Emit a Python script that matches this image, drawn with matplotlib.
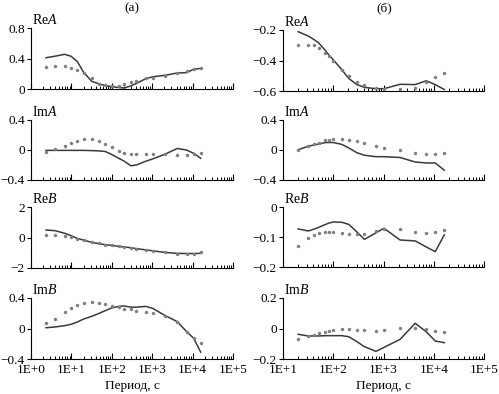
import numpy as np
import matplotlib.pyplot as plt
from matplotlib.ticker import FixedLocator, LogLocator, FuncFormatter, NullFormatter

plt.rcParams['font.family'] = ['Liberation Serif', 'DejaVu Serif']
plt.rcParams['mathtext.fontset'] = 'custom'
plt.rcParams['mathtext.rm'] = 'Liberation Serif'
plt.rcParams['mathtext.it'] = 'Liberation Serif:italic'
plt.rcParams['font.size'] = 9.5

# (a) periods, s
per_a = [2.35, 3.9, 6.8, 9.8, 14, 20, 32, 49, 69, 100, 148, 204, 295, 407,
         690, 1020, 2090, 4170, 7080, 10700, 15850]
reA_obs = [0.29, 0.30, 0.30, 0.28, 0.25, 0.21, 0.14, 0.07, 0.05, 0.04, 0.04,
           0.06, 0.09, 0.10, 0.14, 0.15, 0.17, 0.21, 0.23, 0.26, 0.27]
reA_mod = [0.41, 0.43, 0.455, 0.43, 0.36, 0.22, 0.10, 0.066, 0.045, 0.03, 0.02,
           0.013, 0.04, 0.074, 0.135, 0.16, 0.18, 0.21, 0.215, 0.26, 0.27]
imA_obs = [-0.02, 0.013, 0.058, 0.089, 0.12, 0.15, 0.15, 0.116, 0.08, 0.036, -0.009,
           -0.036, -0.053, -0.053, -0.053, -0.053, -0.053, -0.062, -0.062, -0.053, -0.044]
imA_mod = [-0.005, -0.005, -0.005, -0.005, -0.005, -0.005, -0.008, -0.012, -0.02, -0.06, -0.11,
           -0.15, -0.21, -0.2, -0.15, -0.12, -0.055, 0.02, 0.0, -0.045, -0.11]
reB_obs = [0.19, 0.19, 0.10, 0.01, -0.08, -0.16, -0.27, -0.38, -0.47, -0.51, -0.58,
           -0.64, -0.71, -0.75, -0.84, -0.89, -0.97, -1.06, -1.10, -1.06, -0.97]
reB_mod = [0.49, 0.45, 0.28, 0.12, -0.06, -0.17, -0.32, -0.41, -0.47, -0.52, -0.58,
           -0.62, -0.67, -0.73, -0.81, -0.87, -0.98, -1.04, -1.05, -1.05, -1.04]
imB_obs = [0.068, 0.13, 0.21, 0.27, 0.31, 0.34, 0.35, 0.33, 0.32, 0.30, 0.28,
           0.26, 0.25, 0.23, 0.22, 0.20, 0.17, 0.08, -0.04, -0.12, -0.19]
imB_mod = [0.01, 0.02, 0.037, 0.055, 0.085, 0.124, 0.16, 0.2, 0.234, 0.27, 0.29,
           0.295, 0.28, 0.28, 0.29, 0.265, 0.17, 0.09, -0.04, -0.13, -0.31]

# (б) periods, s
per_b = [20, 32, 41, 51, 68, 81, 100, 148, 204, 295, 417, 708, 1020, 2140,
         4270, 7080, 10700, 16200]
reA2_obs = [-0.30, -0.296, -0.30, -0.318, -0.35, -0.37, -0.40, -0.46, -0.50, -0.54,
            -0.56, -0.58, -0.585, -0.585, -0.58, -0.54, -0.51, -0.485]
reA2_mod = [-0.211, -0.24, -0.262, -0.284, -0.33, -0.362, -0.395, -0.46, -0.518, -0.558,
            -0.576, -0.585, -0.585, -0.556, -0.558, -0.533, -0.558, -0.59]
imA2_obs = [0.004, 0.05, 0.075, 0.1, 0.13, 0.14, 0.15, 0.15, 0.14, 0.115,
            0.09, 0.05, 0.03, 0.0, -0.036, -0.058, -0.058, -0.036]
imA2_mod = [0.004, 0.05, 0.067, 0.08, 0.098, 0.10, 0.10, 0.075, 0.027, -0.036,
            -0.07, -0.089, -0.089, -0.10, -0.16, -0.173, -0.173, -0.27]
reB2_obs = [-0.129, -0.102, -0.093, -0.088, -0.084, -0.084, -0.084, -0.087, -0.089, -0.09,
            -0.089, -0.079, -0.072, -0.073, -0.084, -0.088, -0.084, -0.077]
reB2_mod = [-0.073, -0.08, -0.074, -0.068, -0.059, -0.054, -0.05, -0.051, -0.058, -0.083,
            -0.108, -0.086, -0.071, -0.11, -0.113, -0.133, -0.149, -0.093]
imB2_obs = [-0.067, -0.049, -0.04, -0.032, -0.023, -0.019, -0.012, -0.005, -0.005, -0.008,
            -0.012, -0.014, -0.012, 0.005, 0.001, -0.005, -0.014, -0.021]
imB2_mod = [-0.038, -0.049, -0.049, -0.049, -0.047, -0.047, -0.047, -0.047, -0.054, -0.086,
            -0.119, -0.15, -0.124, -0.071, 0.034, -0.021, -0.082, -0.093]

labels = ['Re$A$', 'Im$A$', 'Re$B$', 'Im$B$']
ylims_a = [(0, 0.8), (-0.4, 0.4), (-2, 2), (-0.4, 0.4)]
ylims_b = [(-0.6, -0.2), (-0.4, 0.4), (-0.2, 0), (-0.2, 0.2)]

W, H = 499, 394
fig = plt.figure(figsize=(W / 100, H / 100), dpi=100)

# pixel boxes (top, bottom) for the rows
rows_a = [(28, 89), (120, 180), (207, 268), (298, 359)]
rows_b = [(30, 91), (120, 180), (207, 267), (298, 359)]

yfmt = FuncFormatter(lambda v, p: ('%g' % round(v, 3)).replace('-', '\u2212'))
xfmt = FuncFormatter(lambda v, p: '1E+%d' % round(np.log10(v)))


def panel(x0, x1, top, bot, per, obs, mod, ylim, xlim, lab, last):
    ax = fig.add_axes([x0 / W, 1 - bot / H, (x1 - x0) / W, (bot - top) / H])
    ax.plot(per, mod, '-', color='#3a3a3a', lw=1.1)
    ax.plot(per, obs, 'o', color='#808080', ms=2.5, mec='none')
    ax.set_xscale('log')
    ax.set_xlim(*xlim)
    ax.set_ylim(*ylim)
    ax.spines['top'].set_visible(False)
    ax.spines['right'].set_visible(False)
    ax.spines['left'].set_linewidth(0.8)
    ax.spines['bottom'].set_linewidth(0.8)
    lo, hi = ylim
    ax.yaxis.set_major_locator(FixedLocator([lo, (lo + hi) / 2, hi]))
    ax.yaxis.set_major_formatter(yfmt)
    ax.tick_params(axis='y', direction='out', length=3, width=0.8, pad=1.5, labelsize=9.5)
    ax.xaxis.set_major_locator(LogLocator(base=10, numticks=10))
    ax.xaxis.set_minor_locator(LogLocator(base=10, subs=np.arange(2, 10), numticks=10))
    ax.xaxis.set_minor_formatter(NullFormatter())
    ax.tick_params(axis='x', which='major', direction='in', length=4, width=0.8, pad=3.5, labelsize=9.5)
    ax.tick_params(axis='x', which='minor', direction='in', length=2.5, width=0.7)
    if last:
        ax.xaxis.set_major_formatter(xfmt)
        ax.set_xlabel('Период, с', fontsize=9.5, labelpad=3)
    else:
        ax.xaxis.set_major_formatter(NullFormatter())
    ax.annotate(lab, xy=(0, 1), xycoords='axes fraction', xytext=(1, 3),
                textcoords='offset points', ha='left', va='baseline', fontsize=10)
    return ax


for i in range(4):
    a = panel(31, 233, rows_a[i][0], rows_a[i][1], per_a,
              [reA_obs, imA_obs, reB_obs, imB_obs][i],
              [reA_mod, imA_mod, reB_mod, imB_mod][i],
              ylims_a[i], (1, 1e5), labels[i], i == 3)
    b = panel(283, 484, rows_b[i][0], rows_b[i][1], per_b,
              [reA2_obs, imA2_obs, reB2_obs, imB2_obs][i],
              [reA2_mod, imA2_mod, reB2_mod, imB2_mod][i],
              ylims_b[i], (10, 1e5), labels[i], i == 3)

fig.text(132 / W, 1 - 8 / H, '(а)', ha='center', va='center', fontsize=9.5)
fig.text(384 / W, 1 - 8 / H, '(б)', ha='center', va='center', fontsize=9.5)

fig.savefig('out.png', dpi=100)
